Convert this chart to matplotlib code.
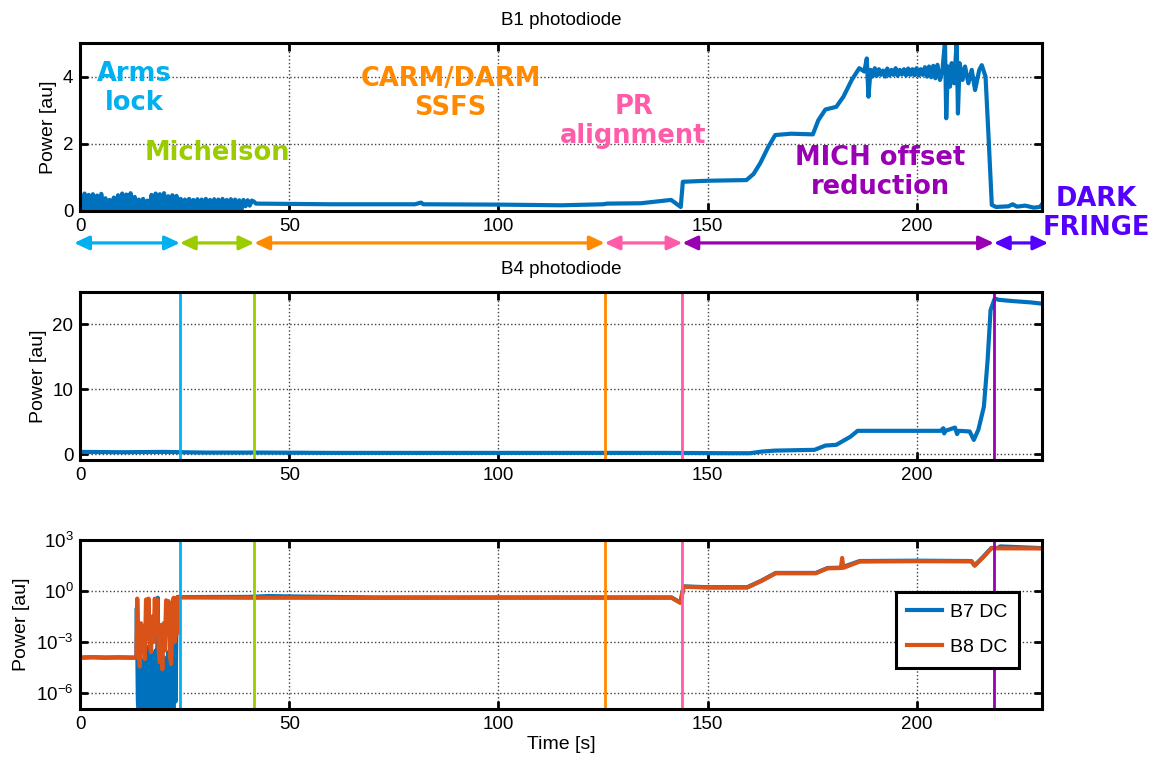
import numpy as np
from matplotlib import pyplot as plt

plt.rcParams["font.family"] = ["Liberation Sans", "DejaVu Sans"]
plt.rcParams["mathtext.fontset"] = "custom"
plt.rcParams["mathtext.rm"] = "Liberation Sans"

# ---- data ----
# B1 photodiode, noisy start (0..41.5 s)
b1_t_start = [
    0.0, 0.5, 1.0, 1.5, 2.0, 2.5, 3.0, 3.5, 4.0, 4.5, 5.0, 5.5, 6.0, 6.5,
    7.0, 7.5, 8.0, 8.5, 9.0, 9.5, 10.0, 10.5, 11.0, 11.5, 12.0, 12.5, 13.0,
    13.5, 14.0, 14.5, 15.0, 15.5, 16.0, 16.5, 17.0, 17.5, 18.0, 18.5, 19.0,
    19.5, 20.0, 20.5, 21.0, 21.5, 22.0, 22.5, 23.0, 23.5, 24.0, 24.5, 25.0,
    25.5, 26.0, 26.5, 27.0, 27.5, 28.0, 28.5, 29.0, 29.5, 30.0, 30.5, 31.0,
    31.5, 32.0, 32.5, 33.0, 33.5, 34.0, 34.5, 35.0, 35.5, 36.0, 36.5, 37.0,
    37.5, 38.0, 38.5, 39.0, 39.5, 40.0, 40.5, 41.0, 41.5,
]
b1_v_start = [
    0.45, 0.03, 0.52, 0.05, 0.48, 0.02, 0.50, 0.06, 0.46, 0.02, 0.51, 0.04,
    0.38, 0.03, 0.33, 0.05, 0.40, 0.02, 0.47, 0.04, 0.52, 0.03, 0.49, 0.05,
    0.53, 0.02, 0.42, 0.04, 0.34, 0.03, 0.36, 0.05, 0.31, 0.02, 0.48, 0.04,
    0.52, 0.03, 0.50, 0.05, 0.53, 0.02, 0.44, 0.04, 0.47, 0.03, 0.45, 0.05,
    0.36, 0.03, 0.34, 0.05, 0.36, 0.02, 0.33, 0.04, 0.35, 0.03, 0.34, 0.05,
    0.36, 0.02, 0.33, 0.04, 0.35, 0.03, 0.34, 0.05, 0.36, 0.02, 0.33, 0.04,
    0.35, 0.03, 0.34, 0.05, 0.32, 0.03, 0.33, 0.14, 0.32, 0.16, 0.31, 0.28,
]
# B1 photodiode, rest of the lock sequence
b1_t_rest = [
    42.0, 60.0, 80.0, 81.5, 82.0, 100.0, 115.0, 125.0, 126.0, 134.0, 141.3,
    143.6, 144.1, 150.0, 159.3, 161.0, 162.6, 164.5, 166.2, 170.0, 175.2,
    176.5, 178.2, 180.8, 182.5, 184.5, 186.3, 187.5, 188.1, 188.5,
    189.0, 189.5, 190.0, 190.5, 191.0, 191.5, 192.0, 192.5, 193.0, 193.5,
    194.0, 194.5, 195.0, 195.5, 196.0, 196.5, 197.0, 197.5, 198.0, 198.5,
    199.0, 199.5, 200.0, 200.5, 201.0, 201.5, 202.0, 202.5, 203.0, 203.5,
    204.0, 204.5, 205.0, 205.6, 206.2, 206.8, 207.1,
    207.5, 208.0, 208.4, 209.0, 209.6, 209.9, 210.3, 211.0, 211.6, 212.4,
    213.2, 214.0, 215.0, 215.6, 216.5, 217.2, 218.0, 219.0, 222.0, 223.0,
    224.0, 226.0, 228.0, 229.5, 230.0,
]
b1_v_rest = [
    0.22, 0.20, 0.20, 0.25, 0.20, 0.19, 0.17, 0.20, 0.22, 0.23, 0.33,
    0.12, 0.87, 0.90, 0.92, 1.10, 1.42, 1.90, 2.26, 2.30, 2.28,
    2.70, 3.02, 3.10, 3.40, 3.90, 4.25, 4.15, 4.54, 3.40,
    4.20, 4.00, 4.25, 4.02, 4.22, 4.05, 4.18, 4.00, 4.24, 4.03,
    4.20, 4.05, 4.25, 4.02, 4.20, 4.06, 4.22, 4.03, 4.24, 4.05,
    4.22, 4.04, 4.25, 4.03, 4.22, 4.05, 4.28, 4.00, 4.30, 3.98,
    4.32, 3.95, 4.35, 3.90, 4.20, 5.05, 2.76,
    4.30, 3.70, 4.40, 3.80, 5.05, 2.90, 4.40, 3.90, 4.30, 3.80,
    4.20, 3.60, 4.20, 4.34, 4.00, 2.26, 0.18, 0.12, 0.14, 0.20,
    0.13, 0.16, 0.10, 0.12, 0.20,
]

# B4 photodiode
b4_t = [
    0, 10, 20, 24, 30, 42, 60, 80, 100, 120, 140, 155, 160.1, 163, 166.1,
    175.6, 178.2, 180.8, 184.2, 185.9, 195, 205.8, 206.4, 206.6, 206.9,
    209.2, 209.7, 210.1, 212.7, 213.7, 214.8, 216.1, 217.0, 217.7, 218.7,
    219.6, 223, 227.3, 230,
]
b4_v = [
    0.35, 0.30, 0.35, 0.30, 0.25, 0.25, 0.20, 0.20, 0.20, 0.20, 0.20, 0.15,
    0.15, 0.40, 0.55, 0.67, 1.33, 1.44, 2.70, 3.60, 3.60, 3.60, 4.00, 3.20,
    3.60, 4.10, 3.10, 3.60, 3.50, 2.20, 3.80, 7.30, 14.5, 22.2, 24.0, 23.8,
    23.6, 23.4, 23.2,
]

# B7 / B8 DC, stored as log10(power)
b7_t = [
    0, 3, 6, 9, 12, 13.4, 13.5, 13.75, 14.0, 14.25, 14.5, 14.75, 15.0, 15.25,
    15.5, 15.75, 16.0, 16.25, 16.5, 16.75, 17.0, 17.25, 17.5, 17.75, 18.0,
    18.25, 18.5, 18.75, 19.0, 19.25, 19.5, 19.75, 20.0, 20.25, 20.5, 20.75,
    21.0, 21.25, 21.5, 21.75, 22.0, 22.25, 22.5, 22.75, 23.0, 23.25, 24, 40,
    45, 50, 70, 100, 125, 141.4, 143.5, 144.3, 150, 159.5, 163, 166.3, 175.9,
    178.7, 181.9, 186.4, 200, 213.1, 213.9, 216, 217.9, 219.5, 220, 230,
]
b7_log10 = [
    -3.92, -3.90, -3.92, -3.91, -3.92, -3.92, -1.0, -6.5, -7.5, -3.8, -7.6,
    -5.0, -7.5, -4.0, -7.4, -6.0, -3.3, -7.5, -5.5, -7.6, -3.7, -7.5, -4.5,
    -7.5, -3.5, -7.2, -0.4, -7.5, -4.2, -7.6, -5.0, -7.5, -3.9, -7.5, -4.8,
    -7.6, -3.6, -7.5, -5.2, -7.4, -4.0, -7.5, -3.0, -6.5, -1.5, -0.35,
    -0.36, -0.35, -0.30, -0.32, -0.38, -0.38, -0.38, -0.38, -0.68, 0.27,
    0.22, 0.22, 0.62, 1.06, 1.06, 1.35, 1.37, 1.76, 1.78, 1.76, 1.50, 2.02,
    2.53, 2.53, 2.62, 2.52,
]
b8_t = [
    0, 3, 6, 9, 12, 13.4, 13.6, 13.9, 14.2, 14.5, 14.8, 15.1, 15.4, 15.7,
    16.0, 16.3, 16.6, 16.9, 17.2, 17.5, 17.8, 18.1, 18.4, 18.7, 19.0, 19.3,
    19.6, 19.9, 20.2, 20.5, 20.8, 21.1, 21.4, 21.7, 22.0, 22.3, 22.6, 22.9,
    23.2, 23.5, 24, 40, 50, 70, 100, 125, 141.4, 143.5, 144.3, 150, 159.5,
    163, 166.3, 175.9, 178.7, 181.9, 182.2, 182.5, 186.4, 200, 213.1, 213.9,
    216, 217.9, 230,
]
b8_log10 = [
    -3.92, -3.89, -3.92, -3.90, -3.92, -3.92, -0.45, -3.0, -4.45, -1.9,
    -3.5, -2.1, -4.0, -0.5, -2.8, -0.45, -3.2, -3.6, -1.5, -3.0, -0.45,
    -2.5, -0.5, -3.4, -4.2, -2.0, -4.6, -1.9, -3.5, -0.55, -2.2, -0.6,
    -3.8, -4.3, -2.0, -0.4, -3.0, -0.42, -2.5, -0.37, -0.38, -0.40, -0.40,
    -0.41, -0.40, -0.40, -0.40, -0.70, 0.25, 0.20, 0.20, 0.60, 1.04, 1.04,
    1.33, 1.35, 1.94, 1.36, 1.73, 1.75, 1.74, 1.49, 2.00, 2.51, 2.50,
]

# lock sequence
phase_edges = [-1.5, 23.8, 41.6, 125.4, 144.0, 218.5, 231.5]
phase_colors = ["#00B0F0", "#9BCC00", "#FF8A00", "#FF5BA8", "#9900B3", "#5500FF"]
phase_labels = ["Arms\nlock", "Michelson", "CARM/DARM\nSSFS", "PR\nalignment",
                "MICH offset\nreduction", "DARK\nFRINGE"]
label_pos = [(12.8, 3.66), (32.7, 1.72), (88.6, 3.5), (132.3, 2.66),
             (191.3, 1.16), (243.0, -0.07)]

blue = "#0072BD"
red = "#D95319"
lw_trace = 3.0


def style_axes(ax):
    for s in ax.spines.values():
        s.set_linewidth(2.2)
    ax.tick_params(direction="in", length=6, width=2, top=True, right=True,
                   labelsize=13.5, pad=5)
    ax.grid(True, linestyle=":", color="0.25", linewidth=1.0)
    ax.set_axisbelow(True)
    ax.set_xlim(0, 230)
    ax.set_xticks([0, 50, 100, 150, 200])
    ax.set_ylabel("Power [au]", fontsize=14)


fig = plt.figure(figsize=(11.65, 7.62), dpi=100)
ax1 = fig.add_axes([0.069, 0.7231, 0.8254, 0.2205])
ax2 = fig.add_axes([0.069, 0.3963, 0.8254, 0.2205])
ax3 = fig.add_axes([0.069, 0.0696, 0.8254, 0.2218])

# top: B1
ax1.plot(b1_t_start + b1_t_rest, b1_v_start + b1_v_rest, color=blue, lw=lw_trace)
style_axes(ax1)
ax1.set_ylim(0, 5)
ax1.set_yticks([0, 2, 4])
ax1.set_title("B1 photodiode", fontsize=13.5, pad=13)

for (x, y), txt, c in zip(label_pos, phase_labels, phase_colors):
    ax1.text(x, y, txt, color=c, fontsize=18.5, fontweight="bold",
             family="DejaVu Sans", ha="center", va="center",
             multialignment="center", linespacing=1.15, clip_on=False)

for k, c in enumerate(phase_colors):
    ax1.annotate("", xy=(phase_edges[k + 1], -0.95), xytext=(phase_edges[k], -0.95),
                 xycoords="data", annotation_clip=False,
                 arrowprops=dict(arrowstyle="<|-|>,head_length=0.9,head_width=0.42",
                                 color=c, lw=2.3, shrinkA=0, shrinkB=0))

# middle: B4
ax2.plot(b4_t, b4_v, color=blue, lw=lw_trace)
style_axes(ax2)
ax2.set_ylim(-0.9, 25)
ax2.set_yticks([0, 10, 20])
ax2.set_title("B4 photodiode", fontsize=13.5, pad=13)

# bottom: B7 / B8 DC
ax3.semilogy(b7_t, np.power(10.0, b7_log10), color=blue, lw=lw_trace, label="B7 DC")
ax3.semilogy(b8_t, np.power(10.0, b8_log10), color=red, lw=lw_trace, label="B8 DC")
style_axes(ax3)
ax3.set_ylim(1.15e-7, 1e3)
ax3.set_yticks([1e-6, 1e-3, 1e0, 1e3])
ax3.minorticks_off()
ax3.set_xlabel("Time [s]", fontsize=14, labelpad=2)

for ax in (ax2, ax3):
    for x, c in zip(phase_edges[1:-1], phase_colors[:-1]):
        ax.axvline(x, color=c, lw=2)

leg = ax3.legend(loc="upper left", bbox_to_anchor=(0.848, 0.695), fontsize=14,
                 fancybox=False, framealpha=1, edgecolor="black",
                 handlelength=1.8, handletextpad=0.4, borderpad=0.6,
                 labelspacing=0.9, borderaxespad=0)
leg.get_frame().set_linewidth(2.2)

fig.savefig("out.png", dpi=100)
